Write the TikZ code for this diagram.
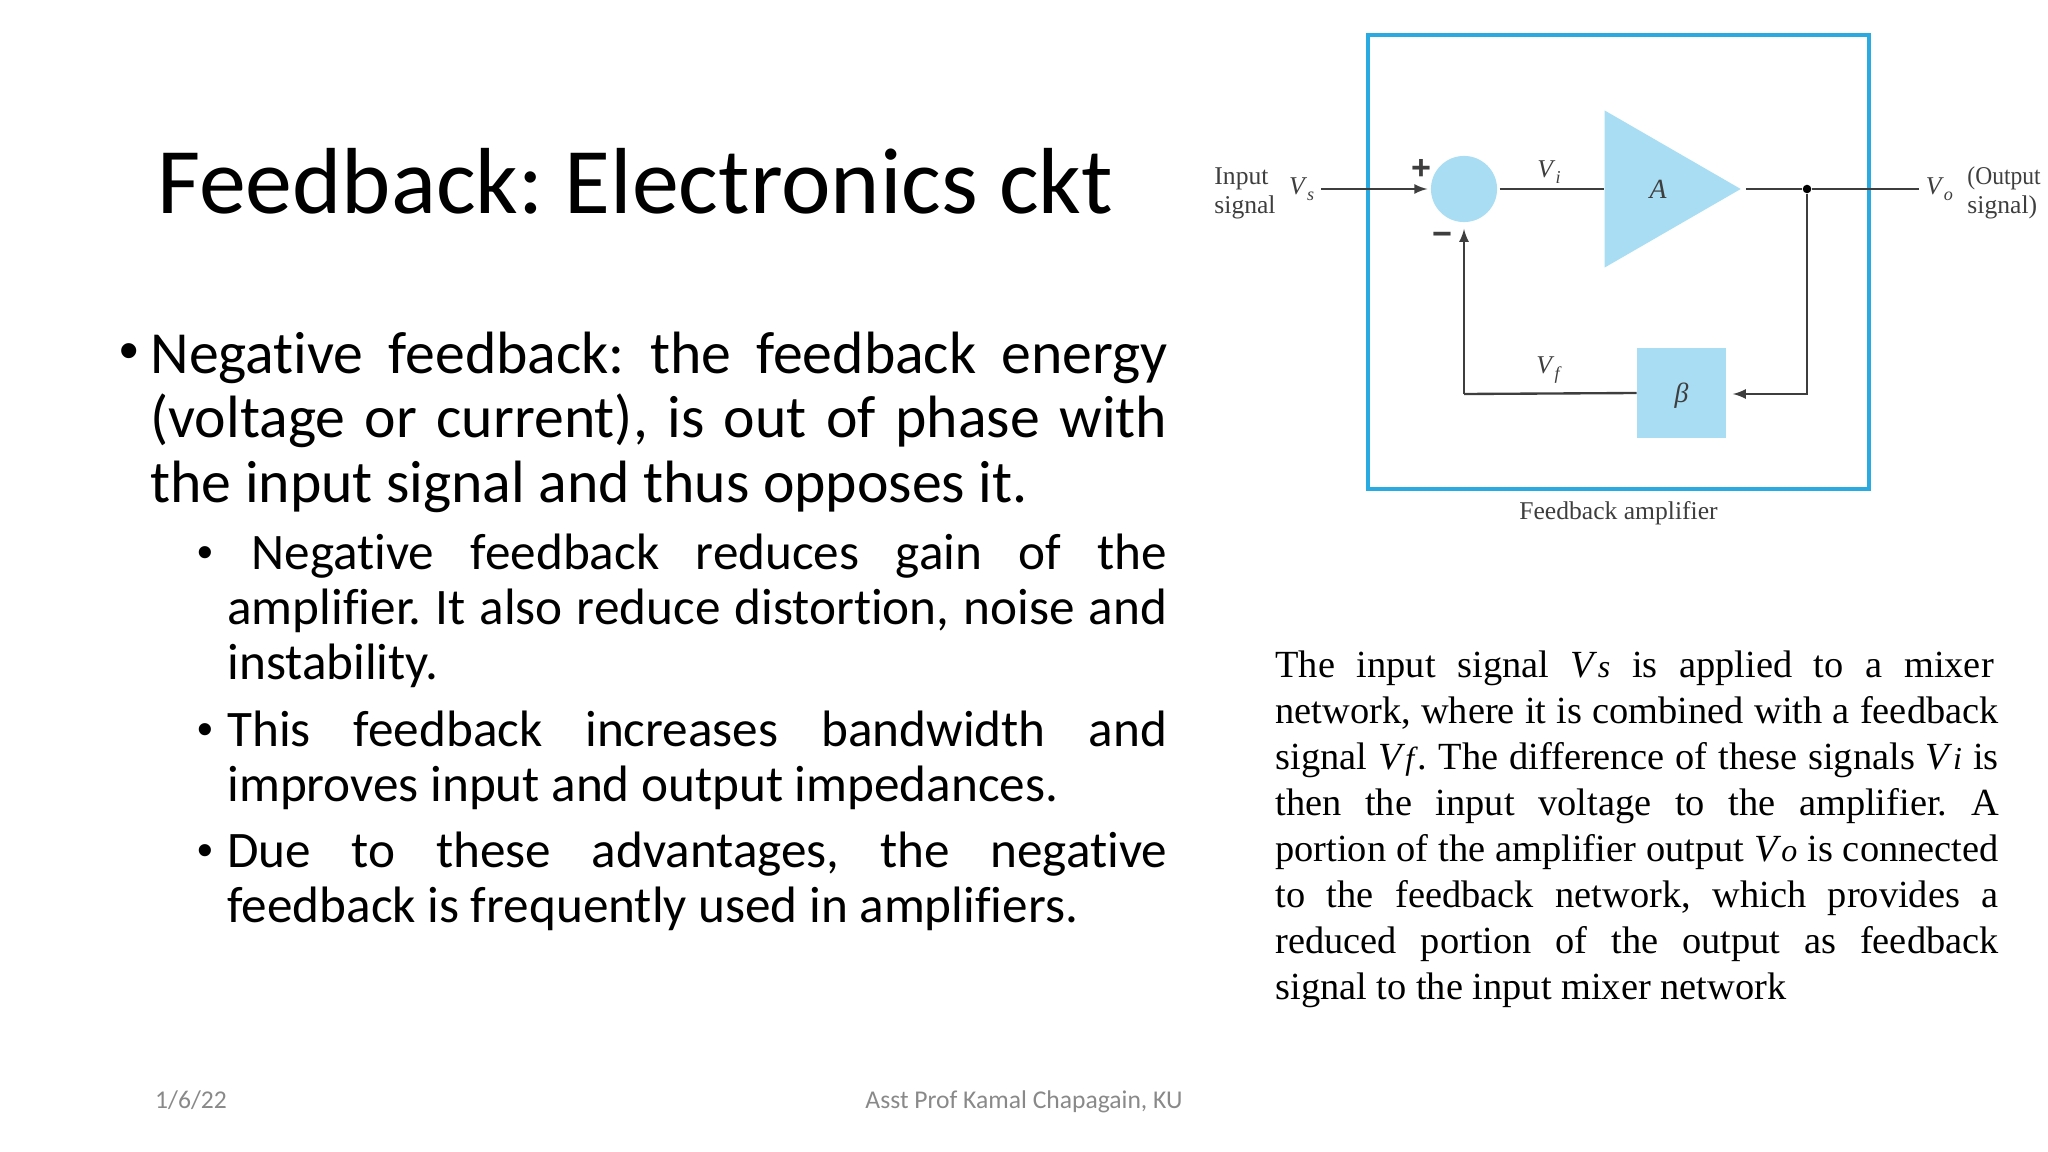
\documentclass[tikz,border=0pt]{standalone}
\usepackage{fontspec}
\setmainfont[Ligatures=CommonOff]{Carlito}
\newfontfamily\figfont{Liberation Serif}
\newfontfamily\signfont{Liberation Sans}
\usetikzlibrary{arrows}
\usetikzlibrary{positioning}
\usetikzlibrary{shapes.geometric}
\tikzset{>=latex}
\setlength{\parindent}{0pt}
\hbadness=10000
\tolerance=9999
\frenchspacing
\definecolor{boxblue}{RGB}{41,171,226}
\definecolor{partblue}{RGB}{168,221,243}
\definecolor{wirecol}{RGB}{62,62,62}
\definecolor{footcol}{RGB}{137,137,137}
\newcommand{\sigv}[1]{\textit{V}\raisebox{-0.25em}{\fontsize{8.5}{9}\selectfont\textit{#1}}}
\newcommand{\inlv}[1]{\textit{V}{\fontsize{15}{15}\selectfont\textit{#1}}}
\tikzset{
  title/.style={anchor=base west, inner sep=0pt, font=\fontsize{44}{44}\selectfont},
  mainpar/.style={anchor=base west, inner sep=0pt, text width=476.7pt, align=justify, font=\fontsize{28}{30.4}\selectfont},
  subpar/.style={anchor=base west, inner sep=0pt, text width=440.5pt, align=justify, font=\fontsize{24}{25.9}\selectfont},
  notepar/.style={anchor=base west, inner sep=0pt, text width=339pt, align=justify, font=\figfont\fontsize{18}{21.6}\selectfont},
  bulletmark/.style={anchor=base west, inner sep=0pt, font=\signfont\fontsize{21}{22}\selectfont},
  foot/.style={anchor=base, inner sep=0pt, text=footcol, font=\fontsize{12}{12}\selectfont},
  part/.style={fill=partblue, draw=none},
  wire/.style={draw=wirecol, line width=1.1pt},
  fig/.style={inner sep=0pt, text=wirecol, font=\figfont\fontsize{12}{13.5}\selectfont, align=left},
  sign/.style={inner sep=0pt, text=wirecol, font=\signfont\bfseries\fontsize{16}{16}\selectfont}
}
\begin{document}
\begin{tikzpicture}[x=0.46875pt, y=-0.46875pt]
      \useasboundingbox (0,0) rectangle (2048,1152);

      \node[title] (head) at (157,214) {Feedback: Electronics ckt};

      % left column
      \node[bulletmark, font=\signfont\fontsize{26}{27}\selectfont] (b0) at (119,369) {•};
      \node[mainpar] (neg) at (150,373) {Negative feedback: the feedback energy\linebreak
        (voltage or current), is out of phase with\linebreak
        the input signal and thus opposes it.};
      \node[bulletmark] (b1) at (197,567) {•};
      \node[subpar] (sub1) at (227,569) {\hspace*{11.3pt}Negative feedback reduces gain of the\linebreak
        amplifier. It also reduce distortion, noise and\linebreak
        instability.};
      \node[bulletmark] (b2) at (197,744) {•};
      \node[subpar] (sub2) at (227,746) {This feedback increases bandwidth and\linebreak
        improves input and output impedances.};
      \node[bulletmark] (b3) at (197,865) {•};
      \node[subpar] (sub3) at (227,867) {Due to these advantages, the negative\linebreak
        feedback is frequently used in amplifiers.};

      % right column
      \node[notepar] (note) at (1275,677) {The input signal \inlv{s} is applied to a mixer\hspace*{2.3pt}\linebreak
        network, where it is combined with a feedback\linebreak
        signal \inlv{f}. The difference of these signals \inlv{i} is\linebreak
        then the input voltage to the amplifier. A\linebreak
        portion of the amplifier output \inlv{o} is connected\linebreak
        to the feedback network, which provides a\linebreak
        reduced portion of the output as feedback\linebreak
        signal to the input mixer network};

      \node[foot] (date) at (191,1108) {1/6/22};
      \node[foot] (who) at (1024,1108) {Asst Prof Kamal Chapagain, KU};

      % amplifier figure
      \node[draw=boxblue, line width=1.5pt, minimum width=234.8pt, minimum height=212.8pt, inner sep=0pt] (frame) at (1618.5,262) {};
      \node[part, circle, minimum size=31pt, inner sep=0pt] (mix) at (1464,189) {};
      \node[part, regular polygon, regular polygon sides=3, shape border rotate=-90, minimum size=85pt, inner sep=0pt] (amp) at (1650,189) {};
      \node[part, minimum width=41.7pt, minimum height=42.2pt, inner sep=0pt] (fb) at (1681.5,393) {};
      \node[fig, font=\figfont\itshape\fontsize{13}{13}\selectfont] (gain) at (1658,189) {A};
      \node[fig, font=\figfont\itshape\fontsize{13}{13}\selectfont] (ratio) at (1681.5,396) {β};

      \coordinate (src) at (1321,189);
      \coordinate (out) at (1919,189);
      \node[circle, fill=black, minimum size=4pt, inner sep=0pt] (tap) at (1807,189) {};
      \coordinate (turn) at (1807,394);
      \coordinate (back) at (1464,394);

      \draw[wire, ->] (src) -- ([xshift=-1.5pt]mix.west);
      \draw[wire, shorten <=1pt] (mix.east) -- (amp.west);
      \draw[wire, shorten <=2pt] (amp.east) -- (tap);
      \draw[wire] (tap) -- (out);
      \draw[wire, ->, shorten >=3pt] (tap) -- (turn) -- (turn -| fb.east);
      \draw[wire] (fb.west) -- (back);
      \draw[wire, ->, shorten >=3pt] (back) -- (mix.south);

      \node[sign] (plus) at (1421,169) {+};
      \node[sign] (minus) at (1442,239) {−};
      \node[fig] (vi) at (1549,172) {\sigv{i}};
      \node[fig] (vf) at (1549,370) {\sigv{f}};
      \node[fig, left = 3pt of src] (vs) {\sigv{s}};
      \node[fig, right = 3pt of out] (vo) {\sigv{o}};
      \node[fig, anchor=west] (inp) at (1214,193) {Input\\signal};
      \node[fig, anchor=west] (outp) at (1967,193) {\scalebox{0.92}[1]{(Output}\\signal)};
      \node[fig, below = 5pt of frame] (cap) {Feedback amplifier};
\end{tikzpicture}
\end{document}
